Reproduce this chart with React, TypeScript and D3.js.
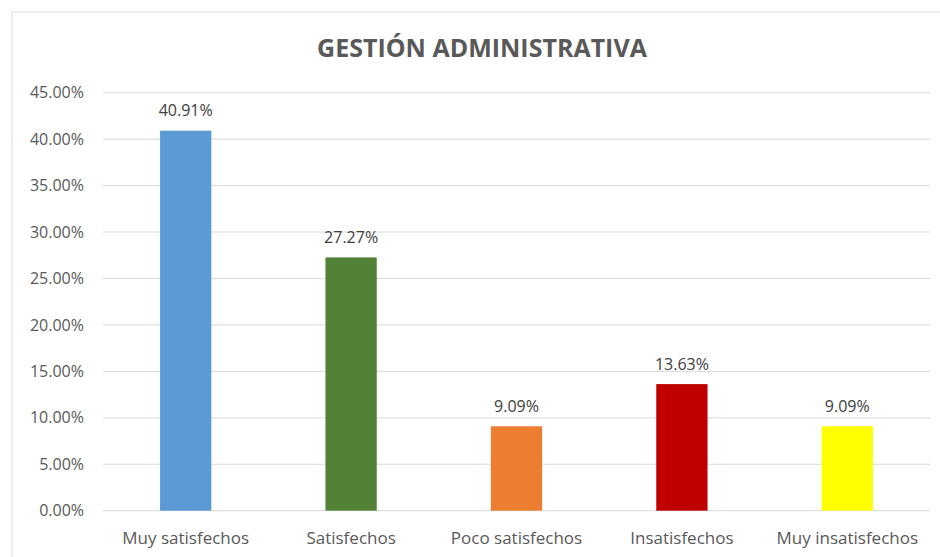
import React from "react";
import * as d3 from "d3";

const categories = ["Muy satisfechos", "Satisfechos", "Poco satisfechos", "Insatisfechos", "Muy insatisfechos"];
const values = [40.91, 27.27, 9.09, 13.63, 9.09];
const colors = ["#5B9BD5", "#538135", "#ED7D31", "#C00000", "#FFFF00"];
const yTicks = [0, 5, 10, 15, 20, 25, 30, 35, 40, 45];
const title = "GESTIÓN ADMINISTRATIVA";

export default function App() {
  const W = 940, H = 557;
  const left = 103, right = 930, top = 92.7, bottom = 510.7;
  const x = d3.scaleBand<string>().domain(categories).range([left, right]).paddingInner(0.69).paddingOuter(0.345);
  const y = d3.scaleLinear().domain([0, 45]).range([bottom, top]);
  const font = "'Open Sans', sans-serif";
  const grey = "#595959";
  return (
    <svg width={W} height={H} style={{ position: "absolute", left: 0, top: 0, background: "#fff" }}>
      <rect x={12} y={12} width={W} height={H} fill="#fff" stroke="#d9d9d9" strokeWidth={1} />
      <text x={482} y={57} textAnchor="middle" fontFamily={font} fontWeight={700} fontSize={25} fill={grey}>{title}</text>
      {yTicks.map((t) => (
        <g key={t}>
          <line x1={left} x2={right} y1={y(t)} y2={y(t)} stroke="#d9d9d9" strokeWidth={1} />
          <text x={84} y={y(t)} dy="0.35em" textAnchor="end" fontFamily={font} fontSize={16} fill={grey}>{t.toFixed(2) + "%"}</text>
        </g>
      ))}
      {categories.map((c, i) => (
        <g key={c}>
          <rect x={x(c)} y={y(values[i])} width={x.bandwidth()} height={bottom - y(values[i])} fill={colors[i]} />
          <text x={(x(c) as number) + x.bandwidth() / 2} y={y(values[i]) - 20} dy="0.35em" textAnchor="middle" fontFamily={font} fontSize={16} fill="#404040">{values[i].toFixed(2) + "%"}</text>
          <text x={(x(c) as number) + x.bandwidth() / 2} y={538} dy="0.35em" textAnchor="middle" fontFamily={font} fontSize={17} fill={grey}>{c}</text>
        </g>
      ))}
    </svg>
  );
}
